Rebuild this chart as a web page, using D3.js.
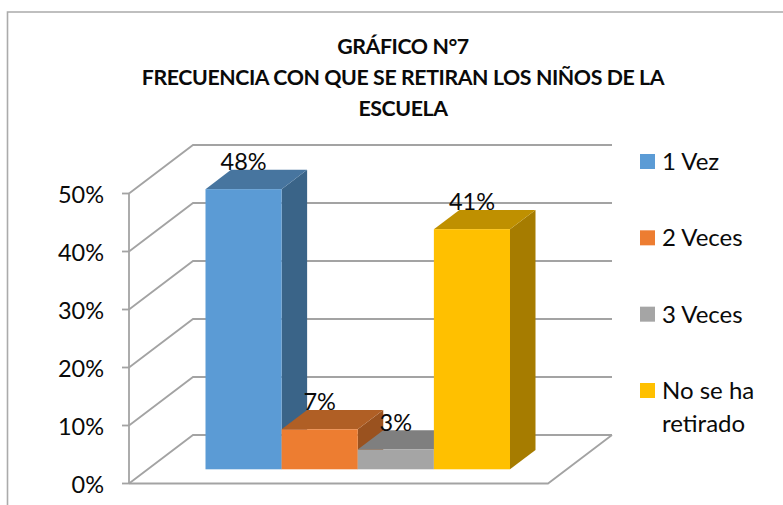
<!DOCTYPE html>
<html><head><meta charset="utf-8">
<script src="https://cdn.jsdelivr.net/npm/d3@7"></script>
<style>html,body{margin:0;padding:0;background:#fff}svg{display:block}text{font-family:Lato,"Open Sans",sans-serif;fill:#0a0a0a}</style>
</head><body><svg id="c" width="783" height="505"></svg>
<script>
const titleLines = ["GRÁFICO N°7","FRECUENCIA CON QUE SE RETIRAN LOS NIÑOS DE LA","ESCUELA"];
const categories = ["1 Vez","2 Veces","3 Veces","No se ha retirado"];
const values = [48.3,6.9,3.4,41.4];
const frontColors = ["#5B9BD5","#ED7D31","#A5A5A5","#FFC000"];
const topColors = ["#47759F","#B05F25","#7F7F7F","#BF9000"];
const sideColors = ["#3A6488","#9A521F","#6E6E6E","#A67C00"];
const ticks = [0,10,20,30,40,50];
const legendLines = [["1 Vez"],["2 Veces"],["3 Veces"],["No se ha","retirado"]];

const svg = d3.select("#c");
const grid = "#a3a3a3";
const y = d3.scaleLinear().domain([0,50]).range([483.5,193.5]);
const x = d3.scaleBand().domain(categories).range([205.5,510]).padding(0);
const wallDx = 64, wallDy = -48.5, wallRight = 612;
const barLift = 14.2, barDx = 25.5, barDy = -19.3;
const pt = a => a.map(p=>p.join(",")).join(" ");

// frame
svg.append("path").attr("d","M7.5,505V12H783").attr("fill","none").attr("stroke","#ababab").attr("stroke-width",1.6);

// title
svg.append("g").selectAll("text").data(titleLines).join("text")
  .attr("x",403).attr("y",(d,i)=>54+i*31).attr("text-anchor","middle")
  .attr("font-size",21.3).attr("font-weight",700).attr("letter-spacing",-0.4).text(d=>d);

// gridlines
const g = svg.append("g").attr("fill","none").attr("stroke",grid).attr("stroke-width",1.8);
g.selectAll("polyline").data(ticks).join("polyline")
  .attr("points",t=>pt([[129,y(t)],[129+wallDx,y(t)+wallDy],[wallRight,y(t)+wallDy]]));
g.append("line").attr("x1",129).attr("x2",129).attr("y1",y(50)).attr("y2",y(0));
g.append("polyline").attr("points",pt([[129,y(0)],[wallRight-wallDx,y(0)],[wallRight,y(0)+wallDy]]));
g.selectAll("line.t").data(ticks).join("line").attr("class","t")
  .attr("x1",122).attr("x2",129).attr("y1",t=>y(t)).attr("y2",t=>y(t));

// y labels
svg.append("g").selectAll("text").data(ticks).join("text")
  .attr("x",104).attr("y",t=>y(t)+9.5).attr("text-anchor","end").attr("font-size",23.5).text(t=>t+"%");

// bars
const bars = svg.append("g").selectAll("g").data(categories).join("g");
const base = y(0)-barLift;
const top_ = i => base-(y(0)-y(values[i]));
bars.append("polygon").attr("fill",(d,i)=>sideColors[i]).attr("points",(d,i)=>{
  const r=x(d)+x.bandwidth();
  return pt([[r,base],[r+barDx,base+barDy],[r+barDx,top_(i)+barDy],[r,top_(i)]]);
});
bars.append("polygon").attr("fill",(d,i)=>topColors[i]).attr("points",(d,i)=>{
  const l=x(d), r=l+x.bandwidth(), t=top_(i);
  return pt([[l,t],[r,t],[r+barDx,t+barDy],[l+barDx,t+barDy]]);
});
bars.append("rect").attr("fill",(d,i)=>frontColors[i])
  .attr("x",d=>x(d)).attr("width",x.bandwidth())
  .attr("y",(d,i)=>top_(i)).attr("height",(d,i)=>base-top_(i));

// data labels
svg.append("g").selectAll("text").data(categories).join("text")
  .attr("x",d=>x(d)+x.bandwidth()/2).attr("y",(d,i)=>top_(i)-19)
  .attr("text-anchor","middle").attr("font-size",23.5).text((d,i)=>Math.round(values[i])+"%");

// legend
const legY = d3.scalePoint().domain(categories).range([161.5,390.5]);
const leg = svg.append("g").selectAll("g").data(categories).join("g");
leg.append("rect").attr("x",640).attr("width",15).attr("height",15)
  .attr("y",d=>legY(d)-7.5).attr("fill",(d,i)=>frontColors[i]);
leg.append("text").attr("font-size",24).each(function(d,i){
  d3.select(this).selectAll("tspan").data(legendLines[i]).join("tspan")
    .attr("x",662).attr("y",(s,j)=>legY(d)+8.5+j*33).text(s=>s);
});
</script></body></html>
